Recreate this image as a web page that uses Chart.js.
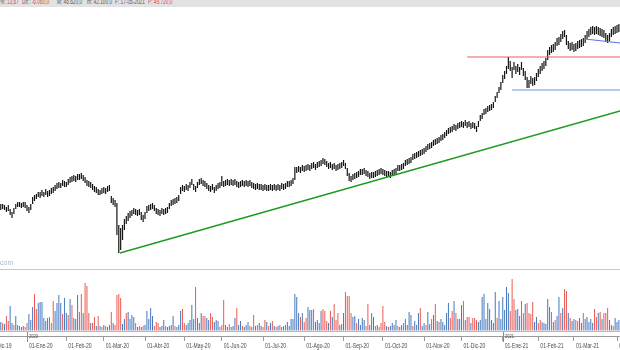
<!DOCTYPE html>
<html>
<head>
<meta charset="utf-8">
<script src="https://cdn.jsdelivr.net/npm/chart.js@4.4.1/dist/chart.umd.min.js"></script>
<style>
  body { margin: 0; background: #fff; }
  #wrap { position: relative; width: 620px; height: 350px; overflow: hidden; }
  #hdr { position: absolute; left: 0; top: 0; width: 620px; height: 7px; background: #e2e2e2; overflow: hidden;
         font: 7px 'Liberation Sans', sans-serif; color: #555; }
  #hdr span { position: absolute; top: -2px; white-space: nowrap; transform: scaleX(0.68); transform-origin: 0 0; }
  #hdr span span { position: static; transform: none; }
  #hdr .r { color: #e53b30; }
  #priceChart { position: absolute; left: 0; top: 8px; }
  #sep { position: absolute; left: 0; top: 269px; width: 620px; height: 1px; background: #c8c8c8; }
  #volChart { position: absolute; left: 0; top: 270px; }
  #mark { position: absolute; left: 0; top: 259px; font: 7px 'Liberation Sans', sans-serif; color: #a9b6d2; }
</style>
</head>
<body>
<div id="wrap">
  <div id="hdr">
    <span style="left:0">%: <span class="r">13,67</span></span>
    <span style="left:22px">Dif.: <span class="r">-6.060,0</span></span>
    <span style="left:57px">M: 46.620,0</span>
    <span style="left:87px">m: 42.100,0</span>
    <span style="left:115px">F: 17-05-2021</span>
    <span class="r" style="left:148px">P: 49.720,0</span>
  </div>
  <canvas id="priceChart" width="620" height="261"></canvas>
  <div id="mark">com</div>
  <div id="sep"></div>
  <canvas id="volChart" width="620" height="80"></canvas>
</div>
<script>
// trading-day index on x, first bar = mid Dec 2019
const xMin = -0.42, xMax = 330.6;

const monthStarts = [-7, 14, 35, 55, 77, 98, 118, 140, 162, 183, 204, 226, 246, 268, 287, 306, 329];
const monthLabels = ['01-Dic-19', '01-Ene-20', '01-Feb-20', '01-Mar-20', '01-Abr-20', '01-May-20', '01-Jun-20',
  '01-Jul-20', '01-Ago-20', '01-Sep-20', '01-Oct-20', '01-Nov-20', '01-Dic-20', '01-Ene-21', '01-Feb-21',
  '01-Mar-21', '01-Abr-21'];
const yearStarts = [14, 268];
const yearLabels = ['2020', '2021'];

// daily highs / lows
const highs = [
  96,96,95,93,95,91,88,92,96,98, 98,97,98,98,95,93,96,103,105,106,
  108,108,110,108,111,109,110,112,113,115, 117,118,117,120,119,118,121,123,124,125,
  124,126,126,127,125,123,120,119,118,116, 114,113,111,110,112,113,112,114,115,104,
  102,100,97,75,72,75,81,84,87,89, 90,92,91,90,91,88,85,88,94,95,
  96,97,95,92,91,90,92,91,92,93, 97,100,101,102,103,105,113,115,114,116,
  115,118,121,116,114,118,121,122,120,119, 117,115,114,116,113,115,117,118,124,119,
  120,121,120,121,120,121,119,118,119,120, 119,120,119,120,118,117,116,117,116,116,
  115,116,115,115,116,115,116,115,116,115, 117,116,117,119,119,120,122,133,133,134,
  133,135,134,135,136,135,137,138,136,138, 139,140,142,141,139,137,138,136,137,135,
  136,137,138,140,137,132,127,124,126,127, 128,129,131,131,132,130,129,127,128,128,
  129,130,131,132,131,130,129,129,128,130, 131,132,135,135,136,137,140,141,142,143,
  146,147,148,149,150,151,152,154,156,157, 158,160,161,162,163,165,166,168,170,172,
  173,174,176,175,177,178,179,178,180,178, 179,177,178,177,174,179,185,187,191,192,
  194,195,196,198,204,208,213,218,225,229, 234,243,239,233,238,234,236,233,238,232,
  229,223,220,224,222,223,227,231,234,237, 239,242,250,253,255,256,258,262,263,266,
  269,270,265,259,257,258,256,257,259,260, 261,262,265,269,271,273,274,273,274,273,
  272,271,270,267,265,267,271,273,274,275, 276
];
const lows = [
  90,91,90,88,89,85,82,86,91,93, 93,92,93,92,89,87,90,96,99,101,
  103,102,104,103,105,103,104,106,107,109, 111,112,112,114,113,113,115,117,118,119,
  118,120,120,121,119,117,114,113,112,110, 108,107,105,105,106,107,106,108,109,97,
  95,93,65,47,50,60,70,76,79,82, 84,86,85,84,85,80,78,81,87,89,
  90,91,89,86,85,84,86,85,86,87, 91,94,95,96,97,99,106,109,108,110,
  109,112,115,110,108,112,115,116,114,113, 111,109,108,110,107,109,111,112,114,113,
  114,115,114,115,114,115,113,112,113,114, 113,114,113,114,112,111,110,111,110,110,
  109,110,109,109,110,109,110,109,110,109, 111,110,111,113,113,114,116,120,127,128,
  127,129,128,129,130,129,131,132,130,132, 133,134,136,135,133,131,132,130,131,129,
  130,131,132,134,131,124,119,118,120,121, 122,123,125,125,126,124,123,121,122,122,
  123,124,125,126,125,124,123,123,122,124, 125,126,129,129,130,131,134,135,136,137,
  140,141,142,143,144,145,146,148,150,151, 152,154,155,156,157,159,160,162,164,166,
  167,168,170,169,171,172,173,172,174,172, 173,171,172,171,168,173,179,181,185,186,
  188,189,190,192,198,202,207,210,217,221, 226,231,229,222,230,226,228,225,230,224,
  220,212,212,216,214,215,219,223,226,229, 231,234,240,245,247,248,250,254,255,258,
  261,263,255,251,249,250,248,249,251,252, 253,254,257,261,263,265,266,265,266,265,
  264,263,262,259,257,259,263,265,266,267, 268
];

// daily volume and side (b = up / blue, r = down / red)
const volumes = [
  9,8,7,15,10,25,8,6,15,6, 5,4,5,4,8,17,11,24,37,22,
  28,29,29,13,10,13,14,8,30,20, 28,36,28,17,33,18,16,32,26,13,
  12,36,19,37,18,48,45,18,8,8, 14,5,15,5,4,6,5,4,6,19,
  8,6,36,37,33,7,12,18,19,12, 16,14,8,4,5,4,5,6,20,12,
  23,15,5,9,8,4,5,11,5,4, 5,6,15,5,4,6,20,22,8,6,
  8,11,26,12,44,13,8,18,15,15, 13,11,18,14,9,11,10,4,6,31,
  6,4,7,4,5,13,23,6,10,5, 4,6,9,5,4,16,5,6,8,5,
  4,11,9,5,8,10,5,4,5,6, 4,5,6,9,5,12,12,37,34,18,
  14,18,9,13,24,21,21,22,9,11, 8,20,22,20,10,8,20,14,27,11,
  18,6,7,18,39,35,35,18,14,15, 8,12,6,13,11,5,27,6,18,14,
  5,6,4,8,25,9,5,4,5,8, 6,11,5,4,6,8,12,6,19,16,
  5,10,6,18,23,5,8,6,19,7, 12,16,27,10,9,12,9,6,18,28,
  13,20,30,18,12,12,26,30,11,14, 14,8,13,13,11,9,11,34,37,12,
  28,22,11,8,39,13,30,12,34,21, 44,38,20,52,32,21,22,15,30,18,
  27,28,18,17,29,9,14,8,11,9, 8,7,32,24,19,9,11,15,34,18,
  23,42,40,18,13,10,12,11,10,13, 8,18,12,14,9,12,8,22,14,18,
  19,12,18,18,23,11,6,5,13,9, 11
];
const volSide = [
  'brbrrbbrbb', 'rbbrrbbbrr', 'bbbbbbrrrb', 'bbbrbbrbrb', 'bbrrbrrrbr', 'rbrbrbrbbr',
  'brrrrbbrbb', 'bbrbrbrbbb', 'bbrrrbbbrb', 'bbbrbbbrrb', 'bbbbrbbbrr', 'bbrrbbbrrr',
  'bbrbbbrbbr', 'bbbrbrbrbb', 'rrbrbrbrbr', 'bbrbbbbbbb', 'rbrrbbbrbb', 'bbrrrbrbrr',
  'rbbbrrrrbb', 'rbbbbrrbbb', 'rbrrrrbrbb', 'bbrbbrbbbb', 'rbbbrbbrbb', 'rbrbrbbbbb',
  'rrbrbbbrbr', 'rbrrrbbbbb', 'bbbbbrbbbb', 'bbrrrbbbrr', 'brrrrbbrrb', 'bbbbrbrbbr',
  'brrbrbbrrb', 'brbbbbbrrb', 'rbrrrbbrbb', 'b'
].join('');

// drawn lines [x, price]
const greenLine = [[63.6, 47], [330.6, 189]];
const redLine = [[249, 243], [330.6, 243]];
const blueFlat = [[273, 210], [330.6, 210]];
const blueSlope = [[312, 261], [330.6, 257]];

const toXY = arr => arr.map(p => ({ x: p[0], y: p[1] }));
const lineSet = (arr, color, w) => ({
  type: 'line', data: toXY(arr), borderColor: color, borderWidth: w,
  pointRadius: 0, fill: false, tension: 0
});

const ctxPrice = document.getElementById('priceChart').getContext('2d');
new Chart(ctxPrice, {
  type: 'bar',
  data: {
    datasets: [
      lineSet(greenLine, '#1f9a1f', 1.4),
      lineSet(redLine, '#ec5b5b', 1),
      lineSet(blueFlat, '#6e92dc', 1),
      lineSet(blueSlope, '#5a6fe0', 1),
      {
        type: 'bar',
        data: highs.map((h, i) => ({ x: i, y: [lows[i], h] })),
        backgroundColor: '#141414',
        barThickness: 1.2,
        inflateAmount: 0,
        borderWidth: 0
      }
    ]
  },
  options: {
    responsive: false,
    animation: false,
    layout: { padding: 0 },
    plugins: { legend: { display: false }, tooltip: { enabled: false } },
    scales: {
      x: { type: 'linear', min: xMin, max: xMax, offset: false, display: false },
      y: { min: 31, max: 292, display: false }
    }
  }
});

// month labels (narrow type) and year marks, placed with the x scale
const axisText = {
  id: 'axisText',
  afterDraw(chart) {
    const ctx = chart.ctx, xs = chart.scales.x, bottom = chart.chartArea.bottom;
    ctx.save();
    ctx.fillStyle = '#4a4a4a';
    ctx.font = "7px 'Liberation Sans', sans-serif";
    ctx.textBaseline = 'alphabetic';
    xs.ticks.forEach((t, k) => {
      const px = xs.getPixelForValue(t.value);
      ctx.save();
      ctx.translate(px + 2, bottom + 12);
      ctx.scale(0.72, 1);
      ctx.fillText(monthLabels[k], 0, 0);
      ctx.restore();
    });
    ctx.strokeStyle = '#8a8a8a';
    ctx.font = "5px 'Liberation Sans', sans-serif";
    yearStarts.forEach((v, k) => {
      const px = Math.round(xs.getPixelForValue(v)) + 0.5;
      ctx.beginPath();
      ctx.moveTo(px, bottom - 4);
      ctx.lineTo(px, bottom + 6);
      ctx.stroke();
      ctx.save();
      ctx.translate(px + 1.5, bottom + 2);
      ctx.scale(0.8, 1);
      ctx.fillText(yearLabels[k], 0, 0);
      ctx.restore();
    });
    ctx.restore();
  }
};

const ctxVol = document.getElementById('volChart').getContext('2d');
new Chart(ctxVol, {
  type: 'bar',
  data: {
    datasets: [{
      data: volumes.map((v, i) => ({ x: i, y: v })),
      backgroundColor: volumes.map((v, i) => volSide[i] === 'r' ? '#ec5a52' : '#4579bd'),
      barThickness: 1,
      inflateAmount: 0,
      borderWidth: 0
    }]
  },
  options: {
    responsive: false,
    animation: false,
    layout: { padding: 0 },
    plugins: { legend: { display: false }, tooltip: { enabled: false } },
    scales: {
      x: {
        type: 'linear', min: xMin, max: xMax, offset: false,
        afterBuildTicks: s => { s.ticks = monthStarts.map(v => ({ value: v })); },
        afterFit: s => { s.paddingLeft = 0; s.paddingRight = 0; s.height = 14; },
        ticks: { display: false, autoSkip: false },
        grid: { drawOnChartArea: false, tickLength: 5, color: '#9a9a9a', offset: false },
        border: { color: '#9a9a9a' }
      },
      y: {
        min: -5, max: 61,
        afterBuildTicks: s => { s.ticks = [{ value: 0 }]; },
        afterFit: s => { s.width = 0; },
        ticks: { display: false },
        grid: { color: '#f3a19c', drawTicks: false },
        border: { display: false }
      }
    }
  },
  plugins: [axisText]
});
</script>
</body>
</html>
